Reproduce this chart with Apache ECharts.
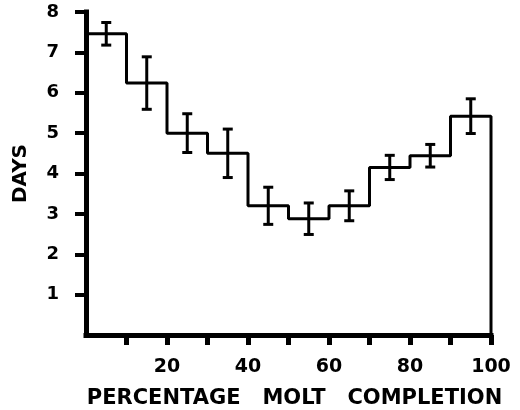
<!DOCTYPE html>
<html>
<head>
<meta charset="utf-8">
<script src="https://cdn.jsdelivr.net/npm/echarts@6/dist/echarts.min.js"></script>
<style>html,body{margin:0;padding:0;background:#fff;}#c{width:520px;height:410px;}</style>
</head>
<body>
<div id="c"></div>
<script>
// Bins of percentage molt completion (start of each 10% bin)
var binStarts = [0, 10, 20, 30, 40, 50, 60, 70, 80, 90];
var binWidth = 10;
// Mean days per bin
var meanDays = [7.46, 6.24, 5.0, 4.5, 3.2, 2.88, 3.2, 4.15, 4.44, 5.42];
// Error (half length of error bar)
var errDays = [0.28, 0.65, 0.48, 0.6, 0.46, 0.39, 0.37, 0.3, 0.28, 0.43];
var xTickValues = [10, 20, 30, 40, 50, 60, 70, 80, 90, 100];
var xLabelValues = [20, 40, 60, 80, 100];
var yTickValues = [1, 2, 3, 4, 5, 6, 7, 8];
var yLabelValues = [1, 2, 3, 4, 5, 6, 7, 8];

var FONT = 'DejaVu Sans';

// step outline points
var stepData = [];
for (var i = 0; i < binStarts.length; i++) stepData.push([binStarts[i], meanDays[i]]);
var lastEnd = binStarts[binStarts.length - 1] + binWidth;
stepData.push([lastEnd, meanDays[meanDays.length - 1]]);
stepData.push([lastEnd, 0]);

var errData = binStarts.map(function (s, i) {
  return [s + binWidth / 2, meanDays[i] - errDays[i], meanDays[i] + errDays[i]];
});

var chart = echarts.init(document.getElementById('c'), null, {renderer: 'canvas'});
chart.setOption({
  animation: false,
  backgroundColor: '#fff',
  grid: {left: 86, right: 29, top: 12, bottom: 75, containLabel: false, outerBoundsMode: 'none'},
  xAxis: {
    type: 'value', min: 0, max: 100, interval: 10,
    name: 'PERCENTAGE   MOLT   COMPLETION',
    nameLocation: 'middle', nameGap: 53,
    nameTextStyle: {fontFamily: FONT, fontWeight: 'bold', fontSize: 21, color: '#000',
      padding: [0, 0, 0, 12]},
    axisLine: {lineStyle: {color: '#000', width: 5, cap: 'square'}},
    axisTick: {show: true, length: 10, inside: false, customValues: xTickValues,
      lineStyle: {color: '#000', width: 5}},
    axisLabel: {
      margin: 23, fontFamily: FONT, fontWeight: 'bold', fontSize: 19, color: '#000',
      customValues: xLabelValues
    },
    splitLine: {show: false}
  },
  yAxis: {
    type: 'value', min: 0, max: 8, interval: 1,
    name: 'DAYS', nameLocation: 'middle', nameGap: 55, nameRotate: 90,
    nameTextStyle: {fontFamily: FONT, fontWeight: 'bold', fontSize: 20, color: '#000'},
    axisLine: {show: true, lineStyle: {color: '#000', width: 5, cap: 'square'}},
    axisTick: {show: true, length: 11, inside: false, customValues: yTickValues,
      lineStyle: {color: '#000', width: 4}},
    axisLabel: {
      margin: 27, fontFamily: FONT, fontWeight: 'bold', fontSize: 18, color: '#000',
      customValues: yLabelValues
    },
    splitLine: {show: false}
  },
  series: [
    {
      type: 'line', data: stepData, step: 'end', symbol: 'none',
      lineStyle: {color: '#000', width: 3}, z: 3
    },
    {
      type: 'custom', data: errData, z: 4,
      renderItem: function (params, api) {
        var x = api.value(0);
        var lo = api.coord([x, api.value(1)]);
        var hi = api.coord([x, api.value(2)]);
        var hw = 5;
        var st = {stroke: '#000', lineWidth: 3};
        return {
          type: 'group', children: [
            {type: 'line', shape: {x1: lo[0], y1: lo[1], x2: hi[0], y2: hi[1]}, style: st},
            {type: 'line', shape: {x1: lo[0] - hw, y1: lo[1], x2: lo[0] + hw, y2: lo[1]}, style: st},
            {type: 'line', shape: {x1: hi[0] - hw, y1: hi[1], x2: hi[0] + hw, y2: hi[1]}, style: st}
          ]
        };
      }
    }
  ]
});
</script>
</body>
</html>
